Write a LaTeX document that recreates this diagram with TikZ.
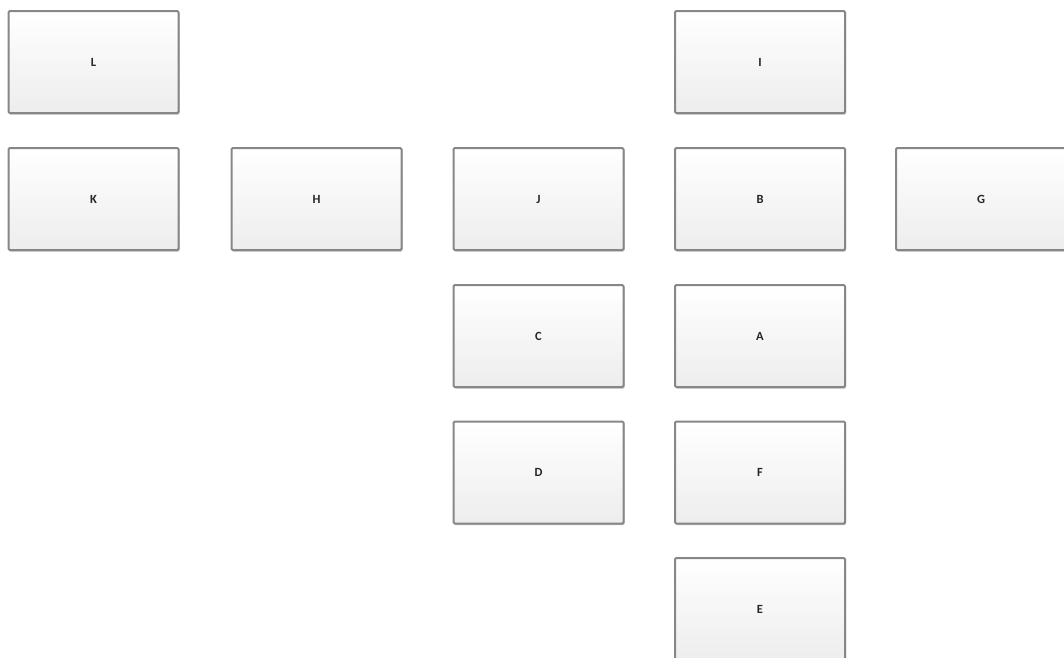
\documentclass[tikz,border=0pt]{standalone}
\usepackage{fontspec}
\setmainfont{Carlito}
\usetikzlibrary{shadows}
\definecolor{boxborder}{HTML}{878787}
\definecolor{boxbottom}{HTML}{EDEDED}
\tikzset{
  box/.style={draw=boxborder, line width=2pt, rounded corners=1.2pt,
    top color=white, bottom color=boxbottom,
    minimum width=170pt, minimum height=102pt, inner sep=0pt,
    font=\fontsize{12.5}{14}\selectfont\bfseries, text=black!85,
    drop shadow={shadow xshift=1pt, shadow yshift=-1.5pt, opacity=0.25, fill=black}}
}
\begin{document}
\begin{tikzpicture}[x=1pt,y=-1pt]
\useasboundingbox (0,0) rectangle (1064,657);
\node[box] (L) at (93.5,62) {L};
\node[box] (I) at (760,62) {I};
\node[box] (K) at (93.5,199) {K};
\node[box] (H) at (316.5,199) {H};
\node[box] (J) at (538.5,199) {J};
\node[box] (B) at (760,199) {B};
\node[box] (G) at (981,199) {G};
\node[box] (C) at (538.5,336) {C};
\node[box] (A) at (760,336) {A};
\node[box] (D) at (538.5,472.5) {D};
\node[box] (F) at (760,472.5) {F};
\node[box] (E) at (760,609) {E};
\end{tikzpicture}
\end{document}
